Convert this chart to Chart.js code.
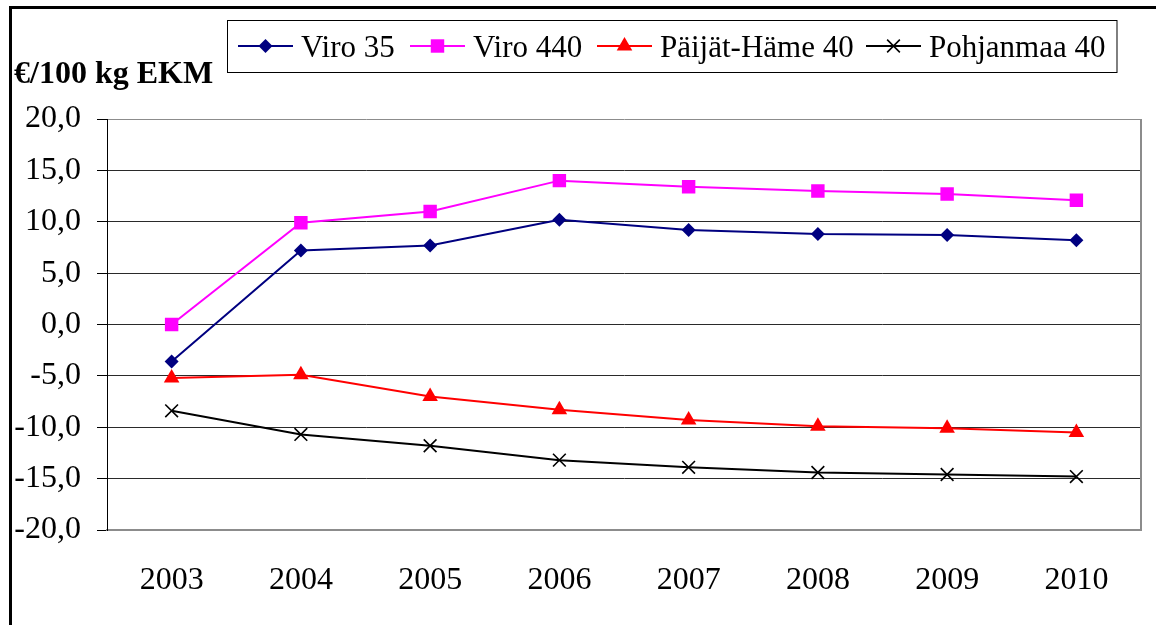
<!DOCTYPE html>
<html>
<head>
<meta charset="utf-8">
<script src="https://cdn.jsdelivr.net/npm/chart.js@4.4.1/dist/chart.umd.min.js"></script>
<style>
  html, body { margin: 0; padding: 0; background: #fff; }
  #wrap { width: 1156px; height: 625px; position: relative; }
</style>
</head>
<body>
<div id="wrap"><canvas id="c" width="1156" height="625"></canvas></div>
<script>
const years = ['2003', '2004', '2005', '2006', '2007', '2008', '2009', '2010'];
const viro35 = [-3.6, 7.2, 7.7, 10.2, 9.2, 8.8, 8.7, 8.2];
const viro440 = [0.0, 9.9, 11.0, 14.0, 13.4, 13.0, 12.7, 12.1];
const paijatHame40 = [-5.2, -4.9, -7.0, -8.3, -9.3, -9.9, -10.1, -10.5];
const pohjanmaa40 = [-8.4, -10.7, -11.8, -13.2, -13.9, -14.4, -14.6, -14.8];
const seriesNames = ['Viro 35', 'Viro 440', 'Päijät-Häme 40', 'Pohjanmaa 40'];
const yTicks = [-20, -15, -10, -5, 0, 5, 10, 15, 20];
const yTitle = '€/100 kg EKM';

const FONT = '"Liberation Serif", "Times New Roman", serif';
const legendStarts = [238, 410, 597, 866];

function drawMarker(ctx, style, x, y, r, color) {
  ctx.save();
  ctx.fillStyle = color;
  ctx.strokeStyle = color;
  ctx.lineWidth = 1.6;
  ctx.beginPath();
  if (style === 'rectRot') {
    ctx.moveTo(x - r, y); ctx.lineTo(x, y - r); ctx.lineTo(x + r, y); ctx.lineTo(x, y + r); ctx.closePath(); ctx.fill();
  } else if (style === 'rect') {
    const s = r * Math.SQRT1_2; ctx.rect(x - s, y - s, 2 * s, 2 * s); ctx.fill();
  } else if (style === 'triangle') {
    const h = r * Math.sqrt(3) / 2;
    ctx.moveTo(x, y - r); ctx.lineTo(x + h, y + r / 2); ctx.lineTo(x - h, y + r / 2); ctx.closePath(); ctx.fill();
  } else if (style === 'crossRot') {
    const o = r * Math.SQRT1_2;
    ctx.moveTo(x - o, y - o); ctx.lineTo(x + o, y + o); ctx.moveTo(x + o, y - o); ctx.lineTo(x - o, y + o); ctx.stroke();
  }
  ctx.restore();
}

const decorPlugin = {
  id: 'decor',
  beforeDraw(chart) {
    const ctx = chart.ctx;
    ctx.save();
    ctx.fillStyle = '#fff';
    ctx.fillRect(0, 0, chart.width, chart.height);
    ctx.restore();
  },
  afterDraw(chart) {
    const ctx = chart.ctx;
    const a = chart.chartArea;
    ctx.save();
    // right plot border
    ctx.strokeStyle = '#8c8c8c';
    ctx.lineWidth = 2;
    ctx.beginPath();
    ctx.moveTo(a.right, a.top);
    ctx.lineTo(a.right, a.bottom + 1);
    ctx.stroke();
    // outer frame
    ctx.fillStyle = '#000';
    ctx.fillRect(9, 6, chart.width - 9, 3);
    ctx.fillRect(9, 6, 3, chart.height - 6);
    // y title
    ctx.fillStyle = '#000';
    ctx.font = 'bold 32px ' + FONT;
    ctx.textAlign = 'left';
    ctx.textBaseline = 'alphabetic';
    ctx.fillText(yTitle, 14, 83);
    // legend
    ctx.font = '31px ' + FONT;
    const boxL = 227, boxT = 20, boxB = 72;
    const lineY = 46;
    const items = chart.data.datasets.map(ds => ({
      label: ds.label, color: ds.borderColor, style: ds.pointStyle, r: ds.pointRadius
    }));
    const lastX = legendStarts[items.length - 1] + 63 + ctx.measureText(items[items.length - 1].label).width;
    const boxR = Math.max(lastX + 11, 1113);
    ctx.strokeStyle = '#000';
    ctx.lineWidth = 1;
    ctx.strokeRect(boxL + 0.5, boxT + 0.5, boxR - boxL, boxB - boxT);
    items.forEach((it, i) => {
      const lx = legendStarts[i];
      ctx.strokeStyle = it.color;
      ctx.lineWidth = 2;
      ctx.beginPath();
      ctx.moveTo(lx, lineY);
      ctx.lineTo(lx + 55, lineY);
      ctx.stroke();
      drawMarker(ctx, it.style, lx + 27.5, lineY, it.r, it.color);
      ctx.fillStyle = '#000';
      ctx.fillText(it.label, lx + 63, 57);
    });
    ctx.restore();
  }
};

const mk = (label, data, color, style, r) => ({
  label, data,
  borderColor: color, backgroundColor: color,
  pointBackgroundColor: color, pointBorderColor: color,
  pointStyle: style, pointRadius: r, pointHoverRadius: r,
  pointBorderWidth: style === 'crossRot' ? 1.6 : 0,
  borderWidth: 2, tension: 0, fill: false
});

new Chart(document.getElementById('c'), {
  type: 'line',
  data: {
    labels: years,
    datasets: [
      mk(seriesNames[0], viro35, '#000080', 'rectRot', 7),
      mk(seriesNames[1], viro440, '#FF00FF', 'rect', 9.5),
      mk(seriesNames[2], paijatHame40, '#FF0000', 'triangle', 9),
      mk(seriesNames[3], pohjanmaa40, '#000000', 'crossRot', 9)
    ]
  },
  options: {
    responsive: false,
    animation: false,
    devicePixelRatio: 1,
    layout: { padding: { top: 119, right: 15, bottom: 0, left: 0 } },
    plugins: { legend: { display: false }, tooltip: { enabled: false }, title: { display: false } },
    scales: {
      x: {
        offset: true,
        afterFit(scale) { scale.height = 95; },
        grid: { display: false, drawTicks: false },
        border: { display: true, color: '#8c8c8c', width: 2 },
        ticks: { color: '#000', font: { family: FONT, size: 32 }, padding: 31, maxRotation: 0 }
      },
      y: {
        min: -20, max: 20,
        afterFit(scale) { scale.width = 107; },
        afterBuildTicks(scale) { scale.ticks = yTicks.map(v => ({ value: v })); },
        grid: {
          color: c => (c.tick && (c.tick.value === 20 || c.tick.value === -20)) ? '#8c8c8c' : '#2a2a2a',
          lineWidth: 1,
          tickLength: 10,
          tickColor: '#000',
          drawTicks: true
        },
        border: { display: true, color: '#000', width: 1 },
        ticks: {
          color: '#000',
          font: { family: FONT, size: 32 },
          padding: 16,
          callback: v => v.toFixed(1).replace('.', ',')
        }
      }
    }
  },
  plugins: [decorPlugin]
});
</script>
</body>
</html>
